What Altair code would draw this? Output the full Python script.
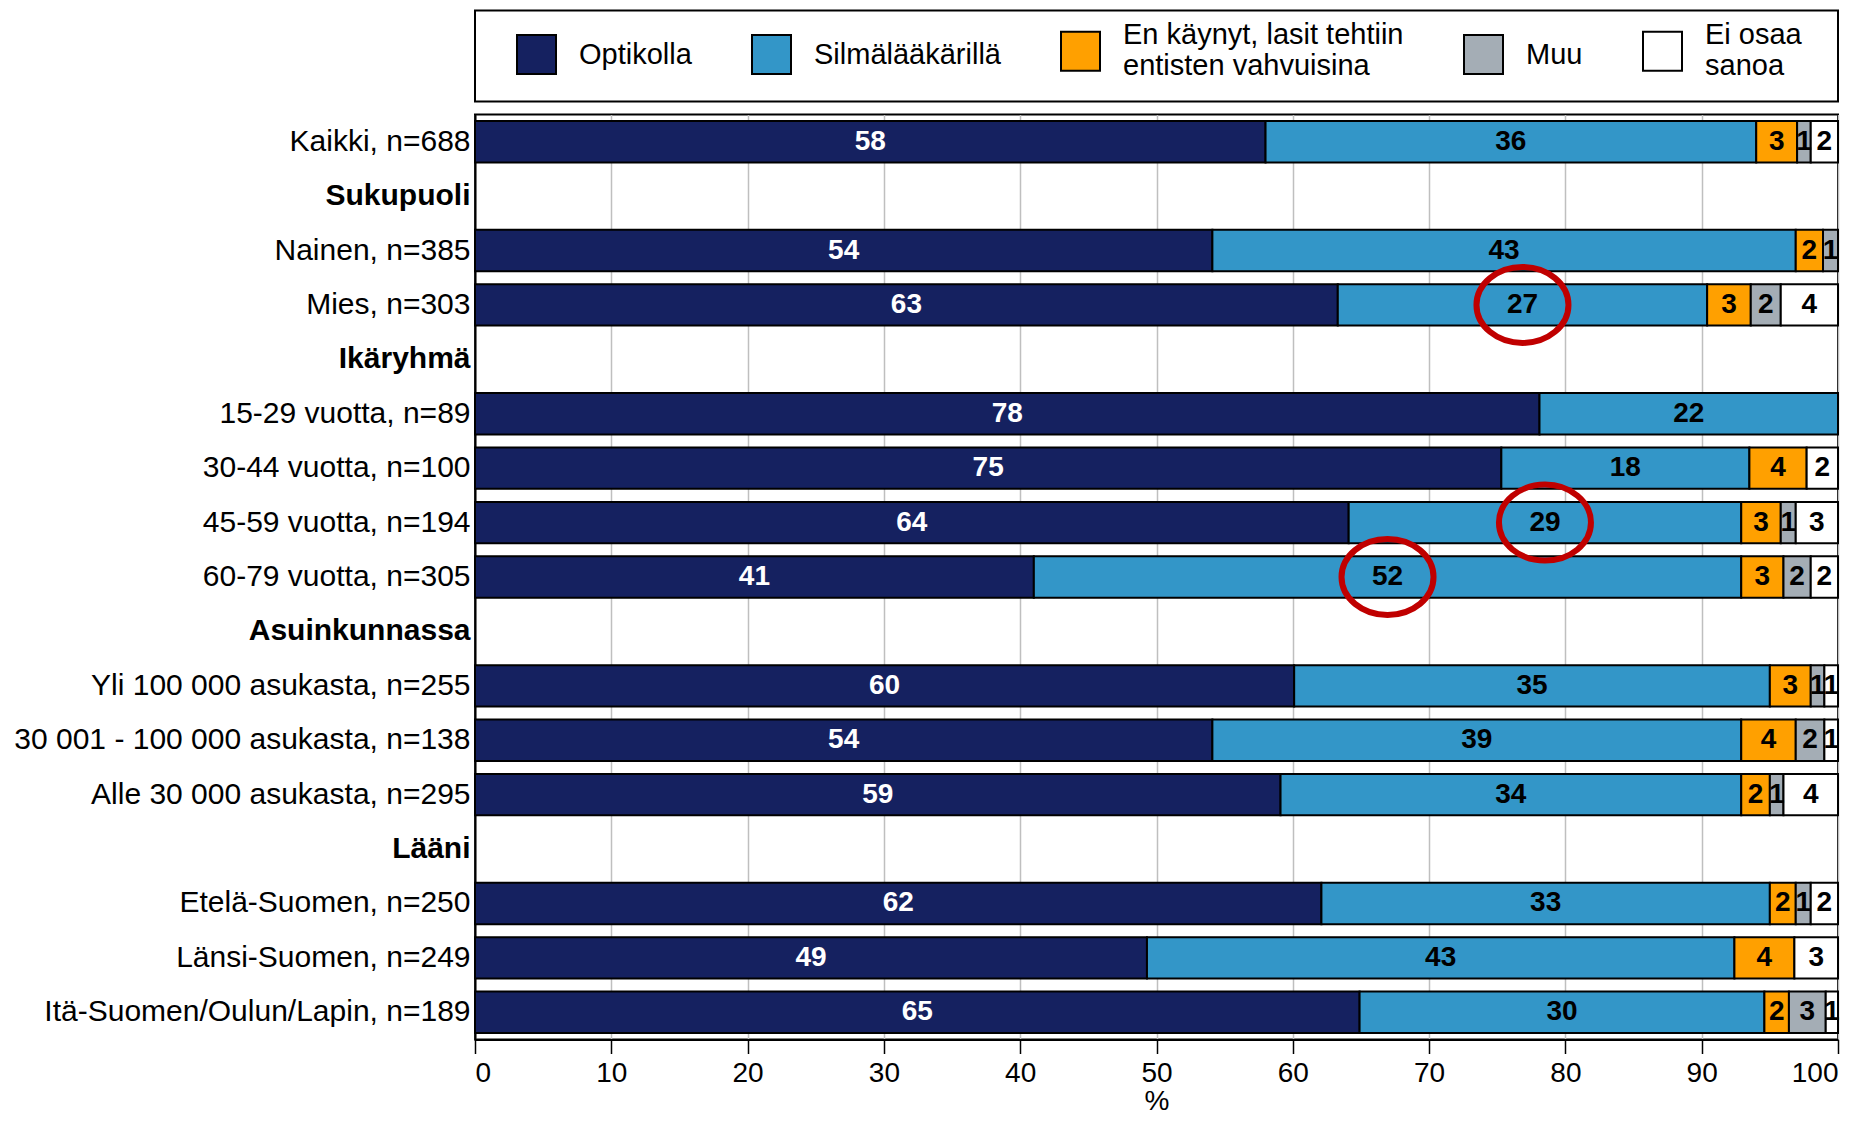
import altair as alt
import pandas as pd

categories = [
    "Kaikki, n=688", "Sukupuoli", "Nainen, n=385", "Mies, n=303", "Ikäryhmä",
    "15-29 vuotta, n=89", "30-44 vuotta, n=100", "45-59 vuotta, n=194", "60-79 vuotta, n=305",
    "Asuinkunnassa", "Yli 100 000 asukasta, n=255", "30 001 - 100 000 asukasta, n=138",
    "Alle 30 000 asukasta, n=295", "Lääni", "Etelä-Suomen, n=250", "Länsi-Suomen, n=249",
    "Itä-Suomen/Oulun/Lapin, n=189",
]
headers = ["Sukupuoli", "Ikäryhmä", "Asuinkunnassa", "Lääni"]

series = ["Optikolla", "Silmälääkärillä", "En käynyt, lasit tehtiin\nentisten vahvuisina", "Muu", "Ei osaa\nsanoa"]
colors = ["#152160", "#3396C8", "#FFA000", "#A4ADB5", "#FFFFFF"]

optikolla = [58.0, None, 54.1, 63.3, None, 78.1, 75.3, 64.1, 41.0, None, 60.1, 54.1, 59.1, None, 62.1, 49.3, 64.9]
silmalaakari = [36.0, None, 42.8, 27.1, None, 21.9, 18.2, 28.8, 51.9, None, 34.9, 38.8, 33.8, None, 32.9, 43.1, 29.7]
en_kaynyt = [3.0, None, 2.0, 3.2, None, 0, 4.2, 2.9, 3.1, None, 3.0, 4.0, 2.1, None, 1.9, 4.4, 1.8]
muu = [1.0, None, 1.1, 2.2, None, 0, 0, 1.1, 2.0, None, 1.0, 2.1, 1.0, None, 1.1, 0, 2.7]
ei_osaa = [2.0, None, 0, 4.2, None, 0, 2.3, 3.1, 2.0, None, 1.0, 1.0, 4.0, None, 2.0, 3.2, 0.9]

highlights = [
    ("Mies, n=303", "Silmälääkärillä"),
    ("45-59 vuotta, n=194", "Silmälääkärillä"),
    ("60-79 vuotta, n=305", "Silmälääkärillä"),
]

rows = []
for si, (s, vals) in enumerate(zip(series, [optikolla, silmalaakari, en_kaynyt, muu, ei_osaa])):
    for c, v in zip(categories, vals):
        if v:
            rows.append({"category": c, "series": s, "order": si, "value": v,
                         "hl": (c, s) in highlights})
df = pd.DataFrame(rows)

FONT = "Liberation Sans"
ELLIPSE = "M -1 0 A 1 0.826 0 1 1 1 0 A 1 0.826 0 1 1 -1 0 Z"

base = alt.Chart(df).transform_stack(
    stack="value", groupby=["category"], as_=["x0", "x1"],
    sort=[alt.SortField(field="order", order="ascending")],
).transform_calculate(mid="(datum.x0 + datum.x1) / 2")

yenc = alt.Y(
    "category:N",
    scale=alt.Scale(domain=categories, paddingInner=0.24, paddingOuter=0.12),
    title=None,
    axis=alt.Axis(
        ticks=False, grid=False, domain=True, domainColor="black", domainWidth=2,
        labelFont=FONT, labelFontSize=30, labelColor="black", labelPadding=5, labelLimit=700,
        labelFontWeight=alt.ExprRef(expr="indexof(" + str(headers) + ", datum.label) >= 0 ? 'bold' : 'normal'"),
    ),
)

bars = base.mark_bar(stroke="black", strokeWidth=2).encode(
    x=alt.X("x0:Q", scale=alt.Scale(domain=[0, 100], nice=False),
            axis=alt.Axis(values=list(range(0, 101, 10)), title="%", grid=True,
                          gridColor="#BFBFBF", gridWidth=1.5,
                          domainColor="black", domainWidth=2, tickColor="black", tickWidth=1.5,
                          tickSize=14, labelFont=FONT, labelFontSize=28, labelColor="black",
                          labelPadding=6, titleFont=FONT, titleFontSize=28, titleFontWeight="normal",
                          titleColor="black", titlePadding=0)),
    x2="x1:Q",
    y=yenc,
    color=alt.Color(
        "series:N",
        scale=alt.Scale(domain=series, range=colors),
        legend=alt.Legend(
            orient="none", legendX=0, legendY=-104, direction="horizontal", columns=5,
            title="\u00a0", titleOrient="right", titleFontSize=1, titlePadding=16,
            fillColor="white", strokeColor="black", padding=20,
            symbolType="square", symbolSize=1521, symbolStrokeColor="black", symbolStrokeWidth=2,
            symbolOffset=21, labelOffset=22, columnPadding=38,
            labelFont=FONT, labelFontSize=29, labelColor="black", labelLimit=500,
            labelBaseline=alt.ExprRef(expr="indexof(datum.label, '\\n') >= 0 ? 'line-bottom' : 'middle'"),
            labelExpr="split(datum.label, '\\n')",
        ),
    ),
)

labels = base.mark_text(font=FONT, fontSize=28, fontWeight="bold", baseline="middle").encode(
    x="mid:Q",
    y=alt.Y("category:N", scale=alt.Scale(domain=categories)),
    text=alt.Text("value:Q", format=".0f"),
    color=alt.condition(alt.datum.series == "Optikolla", alt.value("white"), alt.value("black")),
)

rings = base.transform_filter("datum.hl").mark_point(
    shape=ELLIPSE, size=8464, filled=False, color="#C00000", strokeWidth=6, opacity=1
).encode(
    x="mid:Q",
    y=alt.Y("category:N", scale=alt.Scale(domain=categories)),
)

chart = alt.layer(bars, labels, rings).properties(
    width=1363, height=925,
    padding={"left": 5, "top": 1.5, "right": 0, "bottom": 0},
).configure_view(stroke="black", strokeWidth=2).configure_legend(strokeWidth=2)

chart.save("out.html", embed_options={"renderer": "svg", "actions": False})
